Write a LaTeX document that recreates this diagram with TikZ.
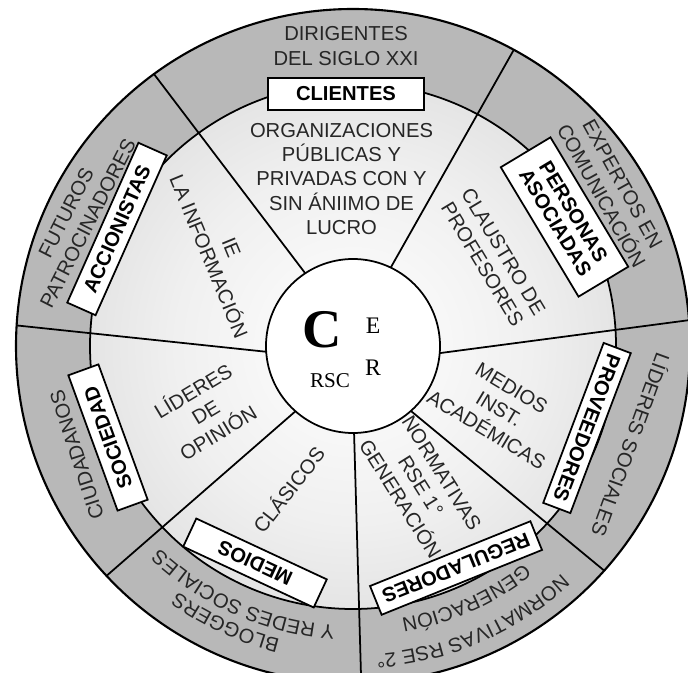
\documentclass[tikz,border=0pt]{standalone}
\usepackage{fontspec}
\setmainfont{Liberation Sans}
\newfontfamily\rscfont{Liberation Serif}
\usetikzlibrary{decorations.text}

\pgfdeclareradialshading{ringshade}{\pgfpoint{0bp}{0bp}}{%
  color(0bp)=(white); color(17bp)=(black!6); color(50bp)=(black!24)}

\begin{document}
\begin{tikzpicture}[x=0.02cm,y=0.02cm,
  lbl/.style={font=\fontsize{11.5}{13.9}\selectfont,align=center,text=black!85,inner sep=0pt},
  tag/.style={draw,fill=white,line width=1pt,font=\fontsize{11.5}{12}\selectfont\bfseries,
    align=center,inner sep=1pt},
  spoke/.style={line width=1pt},
  curved/.style={decorate,decoration={text along path,text align=center,text color=black!85,
    text={|\fontsize{11.5}{13.9}\selectfont|#1}}}]
\useasboundingbox (-353,-326) rectangle (335,346);
\clip (-353,-326) rectangle (335,346);
% rings
\fill[black!28] (0,0) circle[radius=337];
\shade[shading=ringshade] (0,0) circle[radius=263];
\fill[white] (0,0) circle[radius=87];
\draw[line width=1.2pt] (0,0) circle[radius=337];
\draw[line width=1pt] (0,0) circle[radius=263];
\draw[line width=1pt] (0,0) circle[radius=87];
% spokes
\foreach \a/\b in {123.3/126.2,64.3/61.5,-4.7/4.4,-48.3/-41.8,-89.3/-88.6,228.6/223,183.8/176.5}
  \draw[spoke] (\a:87) -- (\b:337);
% centre
\node[font=\fontsize{31}{31}\selectfont\rscfont\bfseries] (bigc) at (-31,16) {C};
\node[font=\fontsize{13.5}{14}\selectfont\rscfont] (lete) at (20,20) {E};
\node[font=\fontsize{13.5}{14}\selectfont\rscfont] (letr) at (20,-22) {R};
\node[font=\fontsize{12}{12}\selectfont\rscfont] (rsc) at (-23,-35) {RSC};
% groups on the middle ring
\node[tag,minimum width=3.12cm,minimum height=0.64cm] (clientes) at (-7,252) {CLIENTES};
\node[tag,minimum width=3.02cm,minimum height=1.16cm,rotate=-59] (personas) at (211.5,129) {PERSONAS\\ASOCIADAS};
\node[tag,minimum width=3.42cm,minimum height=0.58cm,rotate=-110.7] (proveedores) at (234,-82) {PROVEEDORES};
\node[tag,minimum width=3.46cm,minimum height=0.62cm,rotate=-158] (reguladores) at (103,-222) {REGULADORES};
\node[tag,minimum width=2.88cm,minimum height=0.62cm,rotate=155] (medios) at (-98,-217) {MEDIOS};
\node[tag,minimum width=2.88cm,minimum height=0.64cm,rotate=110] (sociedad) at (-245,-91.5) {SOCIEDAD};
\node[tag,minimum width=3.5cm,minimum height=0.62cm,rotate=66] (accionistas) at (-236,117) {ACCIONISTAS};
% inner ring
\node[lbl] (organizaciones) at (-11.5,167) {ORGANIZACIONES\\PÚBLICAS Y\\PRIVADAS CON Y\\SIN ÁNIIMO DE\\LUCRO};
\node[lbl,rotate=-59] (claustro) at (140,88) {CLAUSTRO DE\\PROFESORES};
\node[lbl,rotate=-31] (academicas) at (146,-63) {MEDIOS\\INST.\\ACADÉMICAS};
\node[lbl,rotate=-58] (normas1) at (68,-140) {NORMATIVAS\\RSE 1°\\GENERACIÓN};
\node[lbl,rotate=52] (clasicos) at (-65,-143) {CLÁSICOS};
\node[lbl,rotate=31] (opinion) at (-148,-65) {LÍDERES\\DE\\OPINIÓN};
\node[lbl,rotate=-67.6] (informacion) at (-133,94) {IE\\LA INFORMACIÓN};
% outer ring
\node[lbl] (dirigentes) at (-7,300) {DIRIGENTES\\DEL SIGLO XXI};
\node[lbl,rotate=-61] (expertos) at (259,156) {EXPERTOS EN\\COMUNICACIÓN};
\node[lbl,rotate=-110] (sociales) at (279,-99) {LÍDERES SOCIALES};
\node[lbl,rotate=108] (ciudadanos) at (-276,-109) {CIUDADANOS};
\node[lbl,rotate=63] (futuros) at (-276,128) {FUTUROS\\PATROCINADORES};
\path[curved={NORMATIVAS RSE 2°}] (-36.6:309) arc[start angle=-36.6,end angle=-96.6,radius=309];
\path[curved={GENERACIÓN}] (-35.9:277) arc[start angle=-35.9,end angle=-95.9,radius=277];
\path[curved={BLOGGERS}] (275.3:302) arc[start angle=275.3,end angle=215.3,radius=302];
\path[curved={Y REDES SOCIALES}] (276.3:280) arc[start angle=276.3,end angle=216.3,radius=280];
\end{tikzpicture}
\end{document}
